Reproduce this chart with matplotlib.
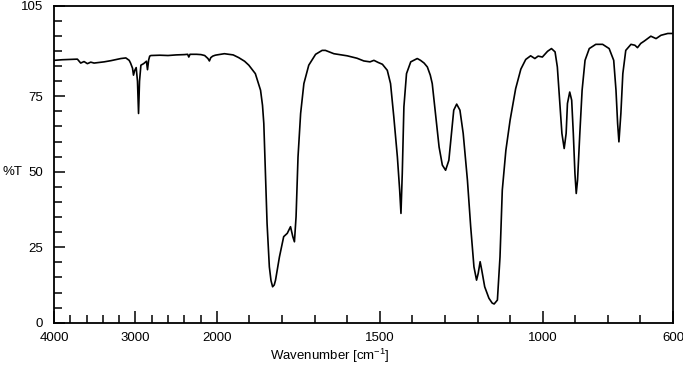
import numpy as np
import matplotlib
matplotlib.use("Agg")
import matplotlib.pyplot as plt

plt.rcParams['font.family'] = ['Liberation Sans', 'DejaVu Sans']
plt.rcParams['mathtext.fontset'] = 'custom'
plt.rcParams['mathtext.rm'] = 'Liberation Sans'
plt.rcParams['mathtext.it'] = 'Liberation Sans'

wavenumber = [4000, 3900, 3800, 3713, 3672, 3631, 3590, 3549, 3508, 3450, 3385, 3300,
              3179, 3118, 3077, 3060, 3036, 3024, 3010, 2991, 2975, 2962, 2950, 2933,
              2900, 2865, 2852, 2838, 2825, 2810, 2700, 2600, 2500, 2400, 2359, 2345,
              2330, 2250, 2195, 2150, 2110, 2092, 2075, 2051, 2020, 2000, 1977, 1950,
              1933, 1915, 1902, 1882, 1866, 1860, 1856, 1851, 1846, 1839, 1834, 1829,
              1824, 1820, 1808, 1795, 1784, 1774, 1767, 1762, 1757, 1751, 1743, 1733,
              1718, 1697, 1677, 1667, 1641, 1600, 1570, 1549, 1530, 1518, 1505, 1492,
              1477, 1467, 1457, 1446, 1439, 1435, 1431, 1426, 1418, 1405, 1385, 1375,
              1364, 1354, 1345, 1339, 1329, 1318, 1308, 1298, 1288, 1280, 1273, 1264,
              1254, 1244, 1231, 1221, 1211, 1203, 1198, 1192, 1187, 1178, 1165, 1155,
              1149, 1139, 1131, 1124, 1113, 1100, 1083, 1067, 1052, 1037, 1024, 1014,
              1001, 985, 973, 962, 955, 948, 941, 934, 928, 924, 917, 911,
              906, 901, 897, 893, 886, 879, 870, 857, 837, 816, 796, 782,
              775, 770, 766, 760, 754, 745, 729, 717, 709, 699, 688, 668,
              652, 637, 616, 600]
transmittance = [86.9, 87.1, 87.2, 87.3, 86.0, 86.5, 85.8, 86.3, 86.0, 86.2, 86.4, 86.8,
                 87.5, 87.7, 86.9, 86.0, 84.3, 82.0, 83.5, 84.5, 80.0, 69.3, 80.0, 85.3,
                 85.8, 86.6, 83.8, 87.0, 88.3, 88.5, 88.6, 88.5, 88.7, 88.8, 88.9, 88.0,
                 88.9, 88.9, 88.8, 88.5, 87.5, 86.7, 87.8, 88.3, 88.6, 88.7, 89.1, 88.7,
                 87.8, 86.6, 85.3, 82.5, 77.0, 72.0, 66.0, 49.4, 32.9, 18.5, 14.0, 11.9,
                 12.5, 14.1, 21.8, 28.5, 29.6, 31.8, 28.5, 26.8, 35.1, 54.9, 69.3, 79.2,
                 85.3, 88.9, 90.2, 90.2, 89.1, 88.4, 87.6, 86.7, 86.4, 86.9, 86.2, 85.6,
                 83.6, 79.2, 68.2, 54.9, 43.9, 36.2, 49.4, 71.5, 82.5, 86.4, 87.5, 86.9,
                 86.0, 84.7, 82.0, 79.2, 69.3, 58.2, 52.2, 50.5, 53.8, 62.7, 70.4, 72.4,
                 70.4, 62.7, 47.2, 31.8, 18.5, 14.1, 16.3, 20.2, 17.4, 11.9, 8.1, 6.5,
                 6.2, 7.5, 21.8, 43.9, 57.1, 67.1, 77.5, 84.0, 87.2, 88.4, 87.5, 88.3,
                 88.0, 89.9, 90.8, 89.7, 84.7, 73.7, 62.7, 57.7, 62.7, 72.6, 76.4, 73.7,
                 62.7, 49.4, 42.8, 47.2, 62.7, 77.0, 86.9, 90.8, 92.2, 92.2, 90.8, 86.9,
                 77.0, 66.0, 59.9, 69.3, 82.5, 90.2, 92.2, 91.9, 91.1, 92.5, 93.3, 94.9,
                 94.1, 95.2, 95.8, 95.8]

x_major = [4000, 3000, 2000, 1500, 1000, 600]
y_major = [0, 25, 50, 75, 105]


# axis is compressed 4x above 2000 cm-1
def fwd(w):
    w = np.asarray(w, dtype=float)
    return np.where(w > 2000, 2000 + (w - 2000) / 4.0, w)


def inv(u):
    u = np.asarray(u, dtype=float)
    return np.where(u > 2000, 2000 + (u - 2000) * 4.0, u)


fig = plt.figure(figsize=(6.83, 3.75), dpi=100)
ax = fig.add_axes([54 / 683, 1 - 322.7 / 375, (673 - 54) / 683, (322.7 - 5.7) / 375])
ax.set_xscale('function', functions=(fwd, inv))

ax.plot(wavenumber, transmittance, color='black', lw=1.2)

ax.set_xlim(4000, 600)
ax.set_ylim(0, 105)
ax.set_xticks(x_major)
ax.set_xticks(list(range(3800, 2000, -200)) + list(range(1900, 600, -100)), minor=True)
ax.set_yticks(y_major)
ax.set_yticks([v for v in range(5, 105, 5) if v not in y_major], minor=True)

ax.tick_params(axis='both', which='both', direction='in', top=False, right=False,
               labelsize=9.5, width=1.1)
ax.tick_params(axis='x', which='major', length=9, pad=7)
ax.tick_params(axis='x', which='minor', length=6)
ax.tick_params(axis='y', which='major', length=8, pad=8)
ax.tick_params(axis='y', which='minor', length=5.5)
for s in ax.spines.values():
    s.set_linewidth(1.3)

fig.text(0.003, 1 - 171.7 / 375, '%T', fontsize=9.5, va='center', ha='left')
fig.text(330 / 683, 1 - 356 / 375, 'Wavenumber [cm$^{-1}$]', fontsize=9.5,
         va='center', ha='center')

fig.savefig('out.png', dpi=100)
